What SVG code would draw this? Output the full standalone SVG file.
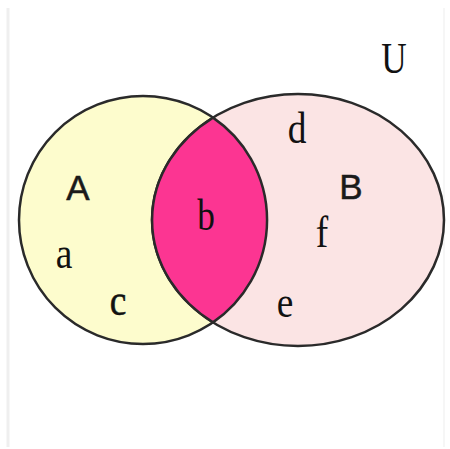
<svg xmlns="http://www.w3.org/2000/svg" width="450" height="449" viewBox="0 0 450 449">
<style>
.set{stroke:#2a2a2a;stroke-width:2.5}
.serif{font-family:"Liberation Serif","Times New Roman",serif;font-size:44px;fill:#111;text-anchor:middle}
.sans{font-family:"Liberation Sans",Arial,sans-serif;font-size:35px;fill:#1a1a1a;stroke:#1a1a1a;stroke-width:0.5;text-anchor:middle}
</style>
<rect x="0" y="0" width="450" height="449" fill="#fff"/>
<line x1="8" y1="8" x2="8" y2="447" stroke="#efefef" stroke-width="3"/>
<line x1="444" y1="8" x2="444" y2="447" stroke="#f6f6f6" stroke-width="2"/>
<g id="setA">
<circle class="set" cx="143" cy="220" r="124" fill="#fdfccd"/>
</g>
<g id="setB">
<ellipse class="set" cx="298" cy="220" rx="146" ry="126" fill="#fbe4e4"/>
</g>
<g id="intersection">
<path class="set" d="M213,117.6 A146,126 0 0 0 213,322.4 A124,124 0 0 0 213,117.6 Z" fill="#fc3592"/>
</g>
<g id="labels">
<text class="serif" transform="translate(394,73) scale(0.8,1)" font-size="46">U</text>
<text class="sans" x="78" y="200">A</text>
<text class="sans" x="351" y="199">B</text>
<text class="serif" transform="translate(64,268) scale(0.85,1)" fill="#444">a</text>
<text class="serif" transform="translate(118,315) scale(0.85,1)" stroke="#111" stroke-width="0.6">c</text>
<text class="serif" transform="translate(206,230) scale(0.8,1)">b</text>
<text class="serif" transform="translate(297,143) scale(0.85,1)">d</text>
<text class="serif" transform="translate(322,247) scale(0.85,1)">f</text>
<text class="serif" transform="translate(285,317) scale(0.85,1)">e</text>
</g>
</svg>
